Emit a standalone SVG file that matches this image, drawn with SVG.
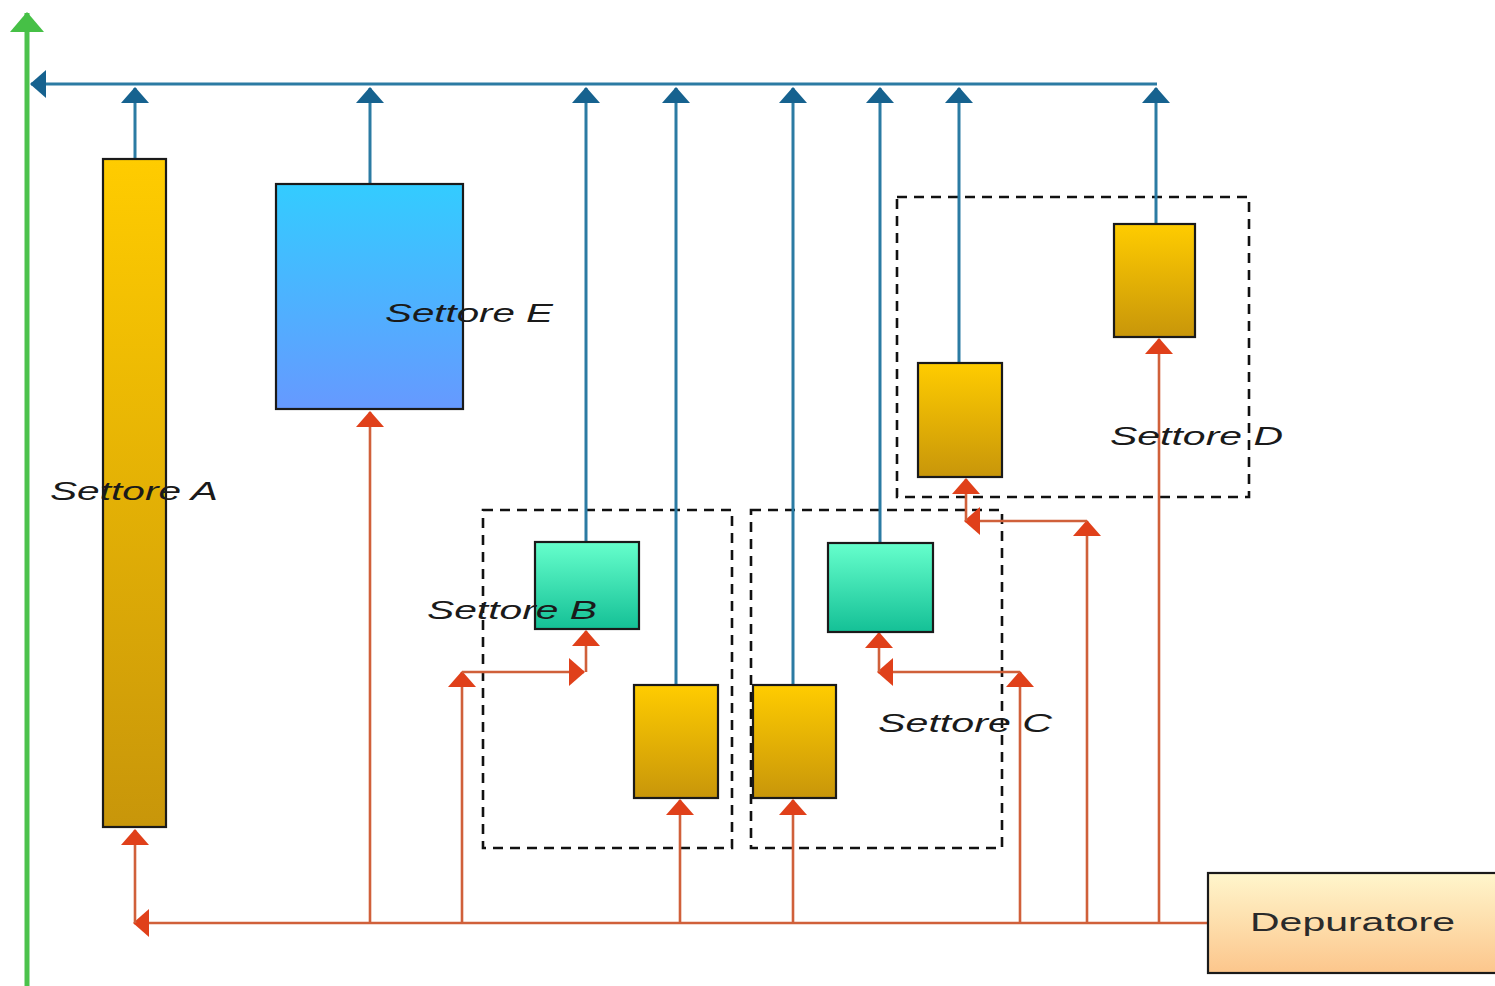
<svg xmlns="http://www.w3.org/2000/svg" width="1495" height="986" viewBox="0 0 1495 986">
<style>
.box{stroke:#1a1a1a;stroke-width:2.2}
.yel{fill:url(#gY)}
.blu{fill:url(#gB)}
.grn{fill:url(#gG)}
.dep{fill:url(#gD)}
.grp{fill:none;stroke:#111;stroke-width:2.6;stroke-dasharray:10 7}
.cb{fill:none;stroke:#2b7ba3;stroke-width:3}
.co{fill:none;stroke:#d0603a;stroke-width:2.6}
.cg{fill:none;stroke:#4cc24c;stroke-width:5}
.ab{marker-end:url(#mB)}
.ao{marker-end:url(#mO)}
.lbl{font-family:"Liberation Sans",Arial,sans-serif;font-style:italic;font-size:26px;fill:#1a1a1a}
.dl{font-family:"Liberation Sans",Arial,sans-serif;font-size:26px;fill:#2a2a2a}
</style>
<defs>
<linearGradient id="gY" x1="0" y1="0" x2="0" y2="1"><stop offset="0" stop-color="#ffcc00"/><stop offset="1" stop-color="#c8960a"/></linearGradient>
<linearGradient id="gB" x1="0" y1="0" x2="0" y2="1"><stop offset="0" stop-color="#33ccff"/><stop offset="1" stop-color="#6699ff"/></linearGradient>
<linearGradient id="gG" x1="0" y1="0" x2="0" y2="1"><stop offset="0" stop-color="#66ffcc"/><stop offset="1" stop-color="#14c096"/></linearGradient>
<linearGradient id="gD" x1="0" y1="0" x2="0" y2="1"><stop offset="0" stop-color="#fff6cc"/><stop offset="1" stop-color="#fcc68c"/></linearGradient>
<marker id="mB" viewBox="0 0 16 28" refX="15" refY="14" markerWidth="16" markerHeight="28" markerUnits="userSpaceOnUse" orient="auto"><path d="M0,0 L16,14 L0,28 Z" fill="#16628f"/></marker>
<marker id="mO" viewBox="0 0 16 28" refX="15" refY="14" markerWidth="16" markerHeight="28" markerUnits="userSpaceOnUse" orient="auto"><path d="M0,0 L16,14 L0,28 Z" fill="#e0401a"/></marker>
<marker id="mG" viewBox="0 0 20 34" refX="19" refY="17" markerWidth="20" markerHeight="34" markerUnits="userSpaceOnUse" orient="auto"><path d="M0,0 L20,17 L0,34 Z" fill="#46c046"/></marker>
</defs>
<rect width="1495" height="986" fill="#ffffff"/>

<g id="groups">
<rect id="grpB" class="grp" x="483" y="510" width="249" height="338"/>
<rect id="grpC" class="grp" x="751" y="510" width="251" height="338"/>
<rect id="grpD" class="grp" x="897" y="197" width="352" height="300"/>
</g>

<g id="connectors">
<line class="cg" x1="27" y1="986" x2="27" y2="13" marker-end="url(#mG)"/>
<line class="cb ab" x1="1157" y1="84" x2="31" y2="84"/>
<line class="cb ab" x1="135" y1="159" x2="135" y2="88"/>
<line class="cb ab" x1="370" y1="184" x2="370" y2="88"/>
<line class="cb ab" x1="586" y1="542" x2="586" y2="88"/>
<line class="cb ab" x1="676" y1="685" x2="676" y2="88"/>
<line class="cb ab" x1="793" y1="685" x2="793" y2="88"/>
<line class="cb ab" x1="880" y1="543" x2="880" y2="88"/>
<line class="cb ab" x1="959" y1="363" x2="959" y2="88"/>
<line class="cb ab" x1="1156" y1="224" x2="1156" y2="88"/>

<line class="co ao" x1="1208" y1="923" x2="134" y2="923"/>
<line class="co ao" x1="135" y1="923" x2="135" y2="830"/>
<line class="co ao" x1="370" y1="923" x2="370" y2="412"/>
<line class="co ao" x1="462" y1="923" x2="462" y2="672"/>
<line class="co ao" x1="462" y1="672" x2="584" y2="672"/>
<line class="co ao" x1="586" y1="672" x2="586" y2="631"/>
<line class="co ao" x1="680" y1="923" x2="680" y2="800"/>
<line class="co ao" x1="793" y1="923" x2="793" y2="800"/>
<line class="co ao" x1="1020" y1="923" x2="1020" y2="672"/>
<line class="co ao" x1="1020" y1="672" x2="878" y2="672"/>
<line class="co ao" x1="879" y1="672" x2="879" y2="633"/>
<line class="co ao" x1="1087" y1="923" x2="1087" y2="521"/>
<line class="co ao" x1="1087" y1="521" x2="965" y2="521"/>
<line class="co ao" x1="966" y1="521" x2="966" y2="479"/>
<line class="co ao" x1="1159" y1="923" x2="1159" y2="339"/>
</g>

<g id="settoreA"><rect class="box yel" x="103" y="159" width="63" height="668"/></g>
<g id="settoreE"><rect class="box blu" x="276" y="184" width="187" height="225"/></g>
<g id="settoreB1"><rect class="box grn" x="535" y="542" width="104" height="87"/></g>
<g id="settoreB2"><rect class="box yel" x="634" y="685" width="84" height="113"/></g>
<g id="settoreC1"><rect class="box yel" x="753" y="685" width="83" height="113"/></g>
<g id="settoreC2"><rect class="box grn" x="828" y="543" width="105" height="89"/></g>
<g id="settoreD1"><rect class="box yel" x="918" y="363" width="84" height="114"/></g>
<g id="settoreD2"><rect class="box yel" x="1114" y="224" width="81" height="113"/></g>
<g id="depuratore"><rect class="box dep" x="1208" y="873" width="300" height="100"/>
<text class="dl" x="1250" y="931" textLength="205" lengthAdjust="spacingAndGlyphs">Depuratore</text></g>

<g id="labels">
<text class="lbl" x="50" y="500" textLength="168" lengthAdjust="spacingAndGlyphs">Settore A</text>
<text class="lbl" x="385" y="322" textLength="168" lengthAdjust="spacingAndGlyphs">Settore E</text>
<text class="lbl" x="427" y="619" textLength="170" lengthAdjust="spacingAndGlyphs">Settore B</text>
<text class="lbl" x="878" y="732" textLength="174" lengthAdjust="spacingAndGlyphs">Settore C</text>
<text class="lbl" x="1110" y="445" textLength="173" lengthAdjust="spacingAndGlyphs">Settore D</text>
</g>
</svg>
